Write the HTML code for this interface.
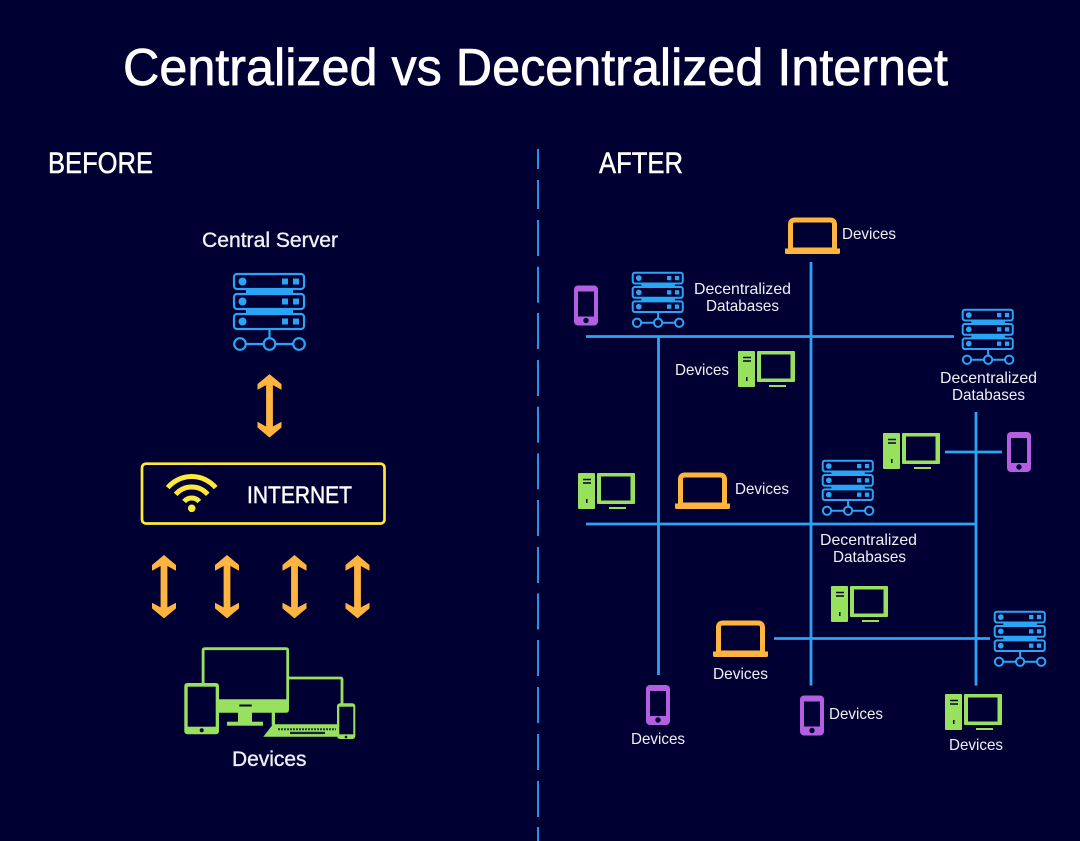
<!DOCTYPE html>
<html><head><meta charset="utf-8"><style>html,body{margin:0;padding:0;background:#000033}svg{display:block}text{font-family:"Liberation Sans",sans-serif;fill:#f0f0f6}.b{stroke:#fff;stroke-width:.7px}.m{stroke:#f0f0f6;stroke-width:.35px}</style></head><body>
<svg width="1080" height="841" viewBox="0 0 1080 841" xmlns="http://www.w3.org/2000/svg">
<defs>
<g id="srv">
<g fill="none" stroke="#2aa5f5">
<rect x="1" y="1" width="70" height="15" rx="3"/><rect x="1" y="21" width="70" height="15" rx="3"/><rect x="1" y="41" width="70" height="15" rx="3"/>
<circle cx="7" cy="71" r="5.8"/><circle cx="36.500" cy="71" r="5.800"/><circle cx="66" cy="71" r="5.800"/>
<path d="M36.500 56V65M13 71H30.500M42.500 71H60"/></g>
<g fill="#2aa5f5"><rect x="13" y="15" width="47" height="7"/><rect x="13" y="35" width="47" height="7"/>
<circle cx="9.500" cy="8.500" r="4"/><circle cx="9.500" cy="28.500" r="4"/><circle cx="9.500" cy="48.500" r="4"/>
<rect x="49" y="5.500" width="6" height="6"/><rect x="60" y="5.500" width="6" height="6"/><rect x="49" y="25.500" width="6" height="6"/><rect x="60" y="25.500" width="6" height="6"/><rect x="49" y="45.500" width="6" height="6"/><rect x="60" y="45.500" width="6" height="6"/></g>
</g>
<g id="s"><use href="#srv" transform="scale(.715)" stroke-width="2.800"/></g>
<g id="lap"><path d="M5.500 31V7Q5.500 2.500 10 2.500H45Q49.500 2.500 49.500 7V31" fill="none" stroke="#ffb43f" stroke-width="5"/><path d="M3 30H52V31H55V35Q55 36.500 53.500 36.500H1.500Q0 36.500 0 35V31H3Z" fill="#ffb43f"/></g>
<g id="pc"><rect x="0" y="0" width="17" height="36" rx="1" fill="#98e15f"/><path d="M5 6.500H13M5 10H13" stroke="#000033" stroke-width="1.500"/><rect x="8" y="26" width="1.500" height="4" fill="#000033"/><rect x="19" y="0" width="38" height="31" rx="1" fill="#98e15f"/><rect x="23" y="3.500" width="29.500" height="24" fill="#000033"/><rect x="31" y="34" width="17" height="2" fill="#98e15f"/></g>
<g id="ph"><rect x="0" y="0" width="24" height="40" rx="4" fill="#b45ee0"/><rect x="4" y="6" width="16" height="25" fill="#000033"/><circle cx="12" cy="35" r="2.700" fill="#000033"/></g>
<path id="ar" d="M0 -31.700L12 -21.700V-16L3.400 -20.700V20.700L12 16V21.700L0 31.700L-12 21.700V16L-3.400 20.700V-20.700L-12 -16V-21.700Z" fill="#ffb43f"/>
</defs>
<rect width="1080" height="841" fill="#000033"/>
<text class="b" x="123" y="85" font-size="52" textLength="825" lengthAdjust="spacingAndGlyphs" style="fill:#fff">Centralized vs Decentralized Internet</text>
<text class="b" x="48" y="173" font-size="30" textLength="105" lengthAdjust="spacingAndGlyphs" style="fill:#fff;stroke-width:.5px">BEFORE</text>
<text class="b" x="599" y="173" font-size="30" textLength="84" lengthAdjust="spacingAndGlyphs" style="fill:#fff;stroke-width:.5px">AFTER</text>
<g stroke="#1f96e8" stroke-width="2"><path d="M538 149V169M538 180V209M538 220V256M538 266.700V302.700M538 313V349M538 360V396M538 406.700V442.700M538 453.400V489.400M538 500V536M538 547V583M538 593.500V629.500M538 640V676M538 687V723M538 734V770M538 781V817M538 827V841"/></g>

<text class="m" x="202" y="247" font-size="21" textLength="136" lengthAdjust="spacingAndGlyphs">Central Server</text>
<use href="#srv" x="233" y="273" stroke-width="2.200"/>
<use href="#ar" x="269.500" y="405.800"/>
<rect x="142" y="463.700" width="242.500" height="59.800" rx="4" fill="none" stroke="#fde83c" stroke-width="2.700"/>
<g fill="none" stroke="#fde83c" stroke-width="5"><path d="M167.700 487.600A31.500 31.500 0 0 1 215.700 487.600"/><path d="M175.700 494.400A21 21 0 0 1 207.700 494.400"/><path d="M184.100 501.500A10 10 0 0 1 199.300 501.500"/></g>
<circle cx="191.700" cy="508.300" r="3.800" fill="#fde83c"/>
<text class="m" x="247" y="503" font-size="24" textLength="105" lengthAdjust="spacingAndGlyphs" style="fill:#fff;stroke:#fff;stroke-width:.5px">INTERNET</text>
<use href="#ar" x="164" y="586.700"/><use href="#ar" x="227" y="586.700"/><use href="#ar" x="294.500" y="586.700"/><use href="#ar" x="357.500" y="586.700"/>

<g fill="none" stroke="#98e15f" stroke-width="2.800">
<path d="M203.100 684V650.500Q203.100 648.700 205 648.700H286Q287.700 648.700 287.700 650.500V700"/>
<path d="M288 678H340.500Q342 678 342 679.500V704"/>
</g>
<g fill="#98e15f">
<path d="M219 699.300H289V709.700Q289 712.700 286 712.700H219Z"/>
<rect x="238" y="712" width="14" height="10"/><rect x="227" y="721.700" width="36" height="4"/>
<rect x="184.300" y="683" width="34.700" height="51.300" rx="3"/>
<rect x="271.700" y="712" width="3.300" height="13"/>
<path d="M273 724.300H337V736.700H263.300Z"/>
<rect x="337" y="703.300" width="18.300" height="35.700" rx="3"/>
</g>
<rect x="187.700" y="686.700" width="28" height="40" fill="#000033"/>
<circle cx="201.700" cy="730.300" r="2" fill="#000033"/>
<rect x="239.300" y="704.500" width="12.400" height="2" fill="#000033"/>
<line x1="278" y1="729.300" x2="336" y2="729.300" stroke="#000033" stroke-width="2" stroke-dasharray="2 1" opacity=".75"/>
<rect x="290" y="731.800" width="35" height="2.300" fill="#000033" opacity=".85"/>
<rect x="339.300" y="706.700" width="14" height="27.600" fill="#000033"/>
<circle cx="346" cy="737" r="1.300" fill="#000033"/>
<text class="m" x="232" y="766" font-size="21.500" textLength="74.500" lengthAdjust="spacingAndGlyphs">Devices</text>

<g stroke="#2aa5f5" stroke-width="2.800" fill="none">
<path d="M586 336.500H954M586 524H976M945 452H1002M774 638.500H990"/>
<path d="M658.500 336V675M811 262V685.500M976 412V685.500"/>
</g>
<use href="#lap" x="785" y="217.500"/><use href="#lap" x="675" y="472.500"/><use href="#lap" x="713" y="620.500"/>
<use href="#pc" x="738" y="351"/><use href="#pc" x="883" y="433"/><use href="#pc" x="578" y="473"/><use href="#pc" x="831" y="586"/><use href="#pc" x="945" y="694"/>
<use href="#ph" x="574" y="285.500"/><use href="#ph" x="1007" y="432"/><use href="#ph" x="646" y="685"/><use href="#ph" x="800" y="695.500"/>
<use href="#s" x="632" y="272"/><use href="#s" x="962" y="309"/><use href="#s" x="822" y="460"/><use href="#s" x="994" y="611"/>

<g font-size="16">
<text x="842" y="239" textLength="54" lengthAdjust="spacingAndGlyphs">Devices</text>
<text x="694" y="294" textLength="97" lengthAdjust="spacingAndGlyphs">Decentralized</text>
<text x="706" y="311" textLength="73" lengthAdjust="spacingAndGlyphs">Databases</text>
<text x="675" y="375" textLength="54" lengthAdjust="spacingAndGlyphs">Devices</text>
<text x="940" y="383" textLength="97" lengthAdjust="spacingAndGlyphs">Decentralized</text>
<text x="952" y="400" textLength="73" lengthAdjust="spacingAndGlyphs">Databases</text>
<text x="735" y="494" textLength="54" lengthAdjust="spacingAndGlyphs">Devices</text>
<text x="820" y="545" textLength="97" lengthAdjust="spacingAndGlyphs">Decentralized</text>
<text x="833" y="562" textLength="73" lengthAdjust="spacingAndGlyphs">Databases</text>
<text x="713" y="679" textLength="55" lengthAdjust="spacingAndGlyphs">Devices</text>
<text x="829" y="719" textLength="54" lengthAdjust="spacingAndGlyphs">Devices</text>
<text x="631" y="744" textLength="54" lengthAdjust="spacingAndGlyphs">Devices</text>
<text x="949" y="750" textLength="54" lengthAdjust="spacingAndGlyphs">Devices</text>
</g>
</svg>
</body></html>
